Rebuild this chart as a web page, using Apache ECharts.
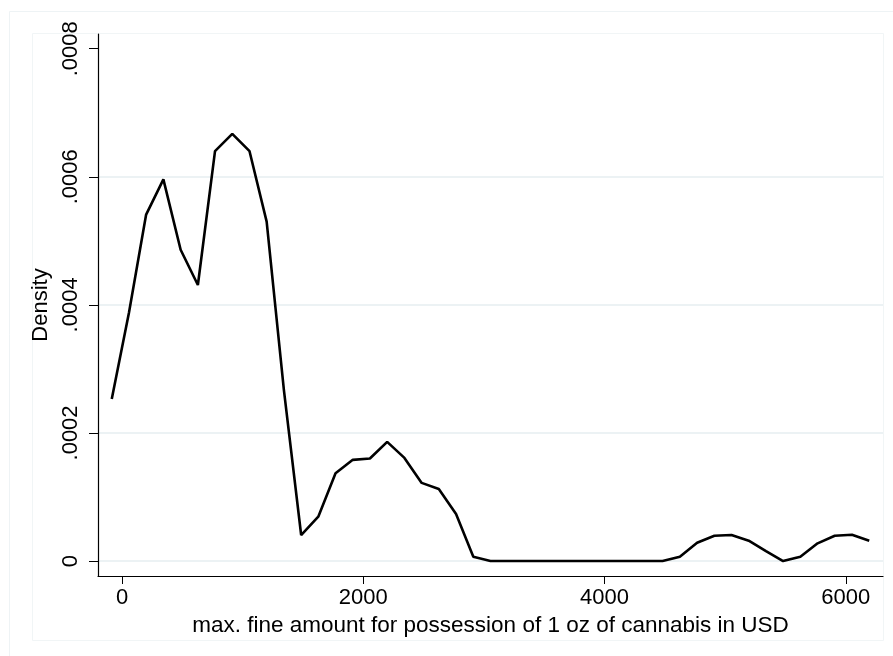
<!DOCTYPE html>
<html>
<head>
<meta charset="utf-8">
<script src="https://cdn.jsdelivr.net/npm/echarts@6/dist/echarts.min.js"></script>
<style>
html,body{margin:0;padding:0;background:#fff;}
#c{width:893px;height:656px;}
</style>
</head>
<body>
<div id="c"></div>
<script>
// Data (kernel density estimate)
const fineUSD = [-85, 58, 200, 343, 486, 629, 771, 914, 1057, 1199, 1342, 1485, 1627, 1770, 1913, 2055, 2198, 2341, 2484, 2626, 2769, 2912, 3054, 3197, 3340, 3482, 3625, 3768, 3911, 4053, 4196, 4339, 4481, 4624, 4767, 4910, 5052, 5195, 5338, 5480, 5623, 5766, 5908, 6051, 6194];
const density = [0.000253, 0.000388, 0.000541, 0.000596, 0.000486, 0.000431, 0.000640, 0.000667, 0.000640, 0.000530, 0.000267, 0.0000406, 0.0000692, 0.000137, 0.000158, 0.000160, 0.000186, 0.000161, 0.000122, 0.0001125, 0.0000734, 0.0000067, 0, 0, 0, 0, 0, 0, 0, 0, 0, 0, 0, 0.0000067, 0.0000286, 0.0000395, 0.0000406, 0.0000318, 0.0000156, 0, 0.0000067, 0.0000276, 0.0000395, 0.0000411, 0.0000318];
const xTicks = [0, 2000, 4000, 6000];
const yTicks = [0, 0.0002, 0.0004, 0.0006, 0.0008];
const yGridLines = [0, 0.0002, 0.0004, 0.0006];
const xTitle = 'max. fine amount for possession of 1 oz of cannabis in USD';
const yTitle = 'Density';

const FONT = 'Liberation Sans, Arial, Helvetica, sans-serif';
const FS = 22;
const Y_MIN = -0.0000234, Y_MAX = 0.000823;
const chart = echarts.init(document.getElementById('c'), null, {renderer: 'canvas'});
const points = fineUSD.map((x, i) => [x, density[i]]);

chart.setOption({
  animation: false,
  backgroundColor: '#ffffff',
  graphic: [
    {type: 'rect', shape: {x: 9.5, y: 11.5, width: 900, height: 700}, style: {fill: 'none', stroke: '#eef3f5', lineWidth: 1}, silent: true, z: -10},
    {type: 'rect', shape: {x: 32.5, y: 33.5, width: 851, height: 607}, style: {fill: 'none', stroke: '#f1f5f6', lineWidth: 1}, silent: true, z: -10}
  ],
  grid: {left: 98, right: 10, top: 34, bottom: 80, containLabel: false},
  xAxis: {
    type: 'value',
    min: -199, max: 6308,
    name: xTitle,
    nameLocation: 'middle',
    nameGap: 34,
    nameTextStyle: {fontFamily: FONT, fontSize: 22.5, color: '#000'},
    axisLine: {show: true, onZero: false, lineStyle: {color: '#000', width: 1.2}},
    axisTick: {show: true, length: 8, customValues: xTicks, lineStyle: {color: '#000', width: 1}},
    axisLabel: {customValues: xTicks, margin: 11, fontFamily: FONT, fontSize: FS, color: '#000', formatter: v => String(v)},
    splitLine: {show: false}
  },
  yAxis: [{
    type: 'value',
    min: Y_MIN, max: Y_MAX,
    name: yTitle,
    nameLocation: 'middle',
    nameRotate: 90,
    nameGap: 31,
    nameTextStyle: {fontFamily: FONT, fontSize: FS, color: '#000'},
    axisLine: {show: true, onZero: false, lineStyle: {color: '#000', width: 1.2}},
    axisTick: {show: true, length: 9, customValues: yTicks, lineStyle: {color: '#000', width: 1}},
    axisLabel: {
      customValues: yTicks, rotate: 90, margin: 16,
      fontFamily: FONT, fontSize: FS, color: '#000',
      formatter: v => v === 0 ? '0' : String(Number(v.toPrecision(6))).replace(/^0\./, '.')
    },
    splitLine: {show: false},
    z: 3
  }, {
    type: 'value',
    position: 'left',
    min: Y_MIN, max: Y_MAX,
    axisLine: {show: false},
    axisTick: {show: false, customValues: yGridLines},
    axisLabel: {show: false, customValues: yGridLines},
    splitLine: {show: true, lineStyle: {color: '#e6eef0', width: 1.5}},
    z: 0
  }],
  series: [{
    type: 'line',
    yAxisIndex: 0,
    data: points,
    showSymbol: false,
    symbol: 'none',
    lineStyle: {color: '#000', width: 2.6},
    z: 5
  }]
});
</script>
</body>
</html>
